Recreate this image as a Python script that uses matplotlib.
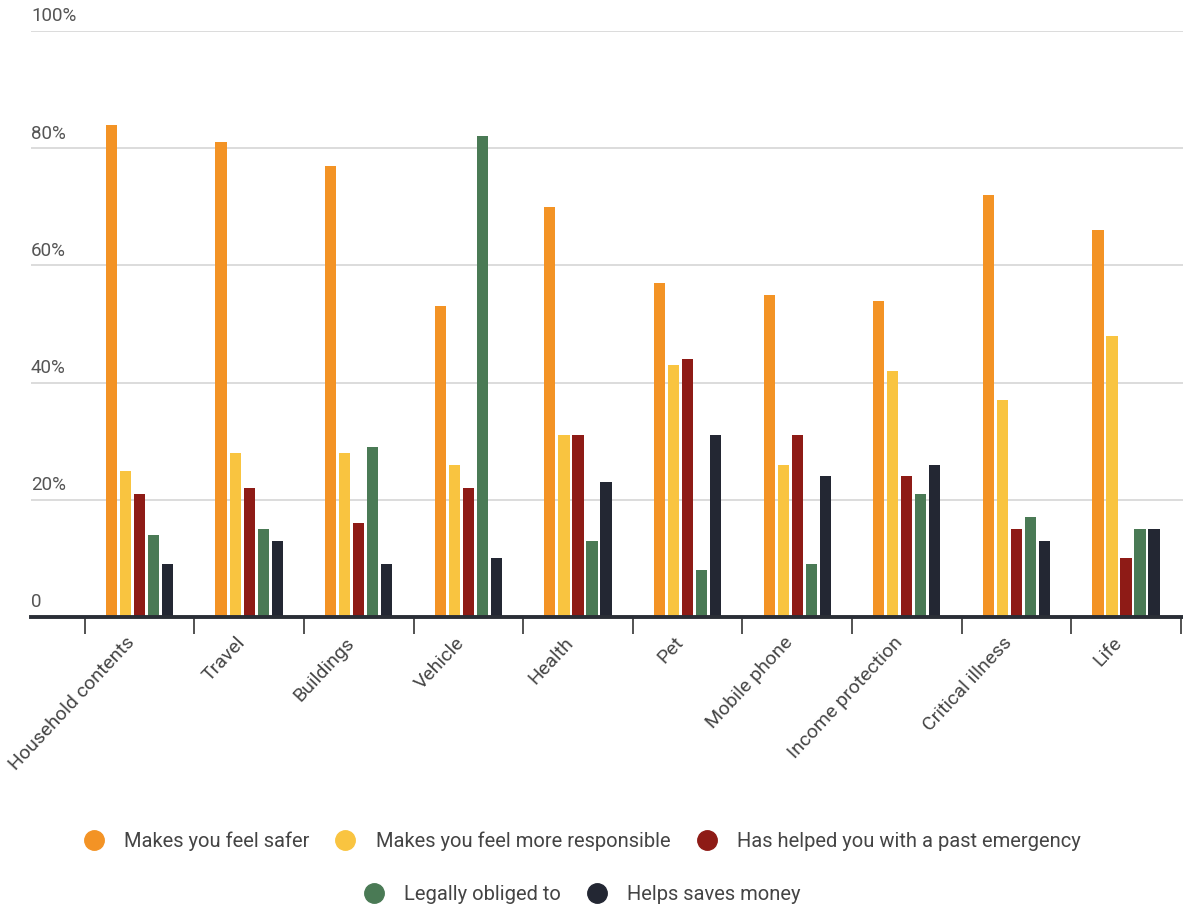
import numpy as np
import matplotlib.pyplot as plt
import matplotlib.transforms as mtransforms
from matplotlib.lines import Line2D

plt.rcParams['font.family'] = ['Roboto', 'DejaVu Sans']

categories = ['Household contents', 'Travel', 'Buildings', 'Vehicle', 'Health', 'Pet',
              'Mobile phone', 'Income protection', 'Critical illness', 'Life']
series_names = ['Makes you feel safer', 'Makes you feel more responsible',
                'Has helped you with a past emergency', 'Legally obliged to', 'Helps saves money']
safer = [84, 81, 77, 53, 70, 57, 55, 54, 72, 66]
responsible = [25, 28, 28, 26, 31, 43, 26, 42, 37, 48]
emergency = [21, 22, 16, 22, 31, 44, 31, 24, 15, 10]
legal = [14, 15, 29, 82, 13, 8, 9, 21, 17, 15]
money = [9, 13, 9, 10, 23, 31, 24, 26, 13, 15]
colors = ['#f39325', '#f9c440', '#8e1b16', '#4a7a55', '#232733']
yticks = [0, 20, 40, 60, 80, 100]
ytick_labels = ['0', '20%', '40%', '60%', '80%', '100%']

series = [safer, responsible, emergency, legal, money]

fig = plt.figure(figsize=(11.83, 9.09), dpi=100)
ax = fig.add_axes([31 / 1183, 1 - 617 / 909, 1 - 31 / 1183, (617 - 31) / 909])

x = np.arange(len(categories))
step = 0.128
width = 0.102
for i, vals in enumerate(series):
    ax.bar(x + (i - 2) * step, vals, width, color=colors[i], zorder=3)

ax.set_xlim(-0.99, 9.52)
ax.set_ylim(0, 100)

# grid + y labels sitting above the lines
ax.set_yticks(yticks)
ax.set_yticklabels(ytick_labels)
ax.grid(axis='y', color='#d9d9d9', linewidth=1.3, zorder=0)
ax.tick_params(axis='y', length=0, pad=0, labelsize=13.5, labelcolor='#555555')
offset = mtransforms.ScaledTranslation(0, 4 / 72, fig.dpi_scale_trans)
for lab in ax.get_yticklabels():
    lab.set_horizontalalignment('left')
    lab.set_verticalalignment('bottom')
    lab.set_transform(lab.get_transform() + offset)

# x axis
ax.set_xticks(x)
ax.set_xticklabels(categories, rotation=47, ha='right', va='top', rotation_mode='anchor')
ax.tick_params(axis='x', length=0, pad=12, labelsize=14, labelcolor='#444444')
xoff = mtransforms.ScaledTranslation(-10 / 72, 0, fig.dpi_scale_trans)
for lab in ax.get_xticklabels():
    lab.set_transform(lab.get_transform() + xoff)
ax.set_xticks(np.arange(len(categories) + 1) - 0.5, minor=True)
ax.tick_params(axis='x', which='minor', length=12, width=1.3, color='#444444')

for s in ['top', 'right', 'left']:
    ax.spines[s].set_visible(False)
ax.spines['bottom'].set_color('#2a2e36')
ax.spines['bottom'].set_linewidth(2.8)
ax.spines['bottom'].set_zorder(4)

# legend in two centred rows
handles = [Line2D([], [], marker='o', linestyle='none', markersize=14,
                  markerfacecolor=c, markeredgecolor=c) for c in colors]
fig.legend(handles[:3], series_names[:3], ncol=3, loc='center',
           bbox_to_anchor=(577 / 1183, 1 - 841 / 909), frameon=False,
           fontsize=14.5, handletextpad=0.5, columnspacing=0.8, labelcolor='#444444')
fig.legend(handles[3:], series_names[3:], ncol=2, loc='center',
           bbox_to_anchor=(577 / 1183, 1 - 895 / 909), frameon=False,
           fontsize=14.5, handletextpad=0.5, columnspacing=0.8, labelcolor='#444444')

fig.savefig('out.png', dpi=100)
